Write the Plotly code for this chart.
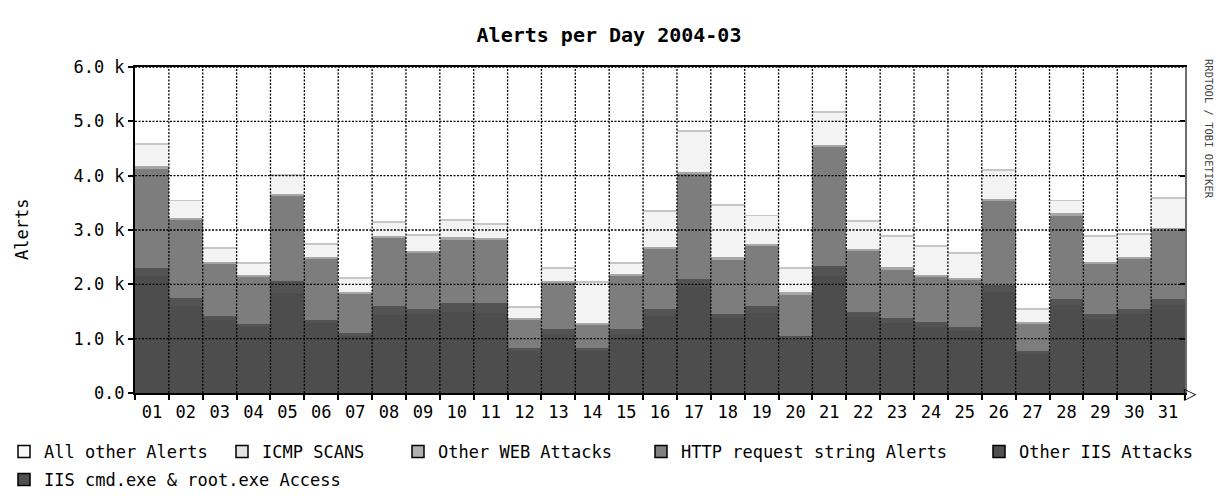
import plotly.graph_objects as go

days = [f"{d:02d}" for d in range(1, 32)]

iis_cmd = [2150, 1600, 1340, 1210, 1845, 1285, 1050, 1440, 1445, 1485, 1475, 765, 1095, 765, 1095,
           1425, 1950, 1380, 1480, 990, 2150, 1400, 1290, 1220, 1140, 1865, 725, 1615, 1370, 1445, 1615]
other_iis = [150, 150, 80, 60, 220, 60, 50, 170, 100, 180, 180, 60, 80, 60, 80,
             120, 150, 80, 130, 60, 180, 100, 90, 80, 70, 130, 50, 120, 90, 100, 120]
http_req = [1825, 1430, 960, 870, 1555, 1120, 720, 1245, 1030, 1160, 1155, 510, 850, 430, 970,
            1110, 1935, 995, 1090, 760, 2195, 1110, 890, 835, 875, 1535, 490, 1530, 915, 920, 1270]
other_web = [50, 40, 40, 40, 40, 40, 40, 40, 40, 40, 40, 40, 40, 40, 40,
             40, 40, 40, 40, 40, 40, 40, 40, 40, 40, 40, 40, 40, 40, 40, 40]
icmp = [395, 305, 225, 195, 340, 220, 235, 230, 275, 305, 235, 185, 220, 725, 185,
        630, 725, 950, 510, 435, 590, 505, 570, 510, 435, 510, 220, 220, 465, 405, 525]
all_other = [35] * 31

series_names = ["IIS cmd.exe & root.exe Access", "Other IIS Attacks", "HTTP request string Alerts",
                "Other WEB Attacks", "ICMP SCANS", "All other Alerts"]
series_values = [iis_cmd, other_iis, http_req, other_web, icmp, all_other]
fill_colors = ["#4d4d4d", "#535353", "#7d7d7d", "#a6a6a6", "#f3f3f3", "#c6c6c6"]
legend_colors = ["#505050", "#505050", "#808080", "#b0b0b0", "#e4e4e4", "#f8f8f8"]

y_ticks = [0, 1000, 2000, 3000, 4000, 5000, 6000]
y_tick_text = ["0.0", "1.0 k", "2.0 k", "3.0 k", "4.0 k", "5.0 k", "6.0 k"]

W, H = 1218, 504
L, R, T, B = 135, 1185, 67, 393
MONO = "DejaVu Sans Mono"


def px_x(p):
    return (p - L) / (R - L)


def px_y(p):
    return (B - p) / (B - T)


x_centers = [i + 0.5 for i in range(len(days))]

fig = go.Figure()
for name, vals, col in zip(series_names, series_values, fill_colors):
    fig.add_trace(go.Bar(x=x_centers, y=vals, width=1, name=name, marker=dict(color=col, line=dict(width=0)),
                         showlegend=False, hoverinfo="skip"))

# legend entries (placed individually like the original)
legend_pos = {
    "All other Alerts": (4, 452),
    "ICMP SCANS": (222, 452),
    "Other WEB Attacks": (398, 452),
    "HTTP request string Alerts": (641, 452),
    "Other IIS Attacks": (979, 452),
    "IIS cmd.exe & root.exe Access": (4, 480),
}
legend_layouts = {}
for i, (name, col) in enumerate(zip(series_names, legend_colors)):
    key = "legend" if i == 0 else f"legend{i+1}"
    fig.add_trace(go.Scatter(x=[None], y=[None], mode="markers", name=name, legend=key, yaxis="y2",
                             marker=dict(symbol="square", size=12, color=col, line=dict(color="black", width=1.5))))
    px, py = legend_pos[name]
    legend_layouts[key] = dict(x=px / W, y=1 - py / H, xref="container", yref="container",
                               xanchor="left", yanchor="middle", bgcolor="rgba(0,0,0,0)",
                               itemwidth=30, font=dict(family=MONO, size=17, color="black"),
                               borderwidth=0, itemclick=False)

shapes = []
# dotted grid drawn above the bars
for v in range(1, len(days)):
    shapes.append(dict(type="line", xref="x", yref="y", x0=v, x1=v, y0=0, y1=y_ticks[-1],
                       line=dict(color="black", width=1.3, dash="2px,1.5px"), layer="above"))
for v in y_ticks[1:]:
    shapes.append(dict(type="line", xref="x", yref="y", x0=0, x1=len(days), y0=v, y1=v,
                       line=dict(color="black", width=1.3, dash="2px,1.5px"), layer="above"))

fig.update_layout(
    width=W, height=H,
    margin=dict(l=L, r=W - R, t=T, b=H - B, pad=0, autoexpand=False),
    paper_bgcolor="white", plot_bgcolor="white",
    barmode="stack", bargap=0,
    title=dict(text="Alerts per Day 2004-03", x=0.5, xref="container", xanchor="center",
               y=1 - 35 / H, yref="container", yanchor="middle",
               font=dict(family=MONO, size=20, color="black", weight="bold")),
    xaxis=dict(range=[0, len(days)], tickvals=x_centers, ticktext=days, ticks="", showgrid=False,
               showline=True, linecolor="black", linewidth=2, mirror=True, zeroline=False,
               tickfont=dict(family=MONO, size=17, color="black"), ticklabelstandoff=3,
               minor=dict(tickvals=list(range(0, len(days) + 1)), ticks="outside", ticklen=5,
                          tickcolor="black", tickwidth=2, showgrid=False),
               fixedrange=True),
    yaxis=dict(range=[0, y_ticks[-1]], tickvals=y_ticks, ticktext=y_tick_text, ticks="outside",
               ticklen=5, tickwidth=2, tickcolor="black", showgrid=False, zeroline=False,
               showline=True, linecolor="black", linewidth=2,
               tickfont=dict(family=MONO, size=17, color="black"), fixedrange=True),
    yaxis2=dict(overlaying="y", side="right", range=[0, y_ticks[-1]], tickvals=y_ticks,
                showticklabels=False, ticks="inside", ticklen=5, tickwidth=2, tickcolor="black",
                showgrid=False, zeroline=False, showline=True, linecolor="#6e6e6e", linewidth=2,
                fixedrange=True),
    shapes=shapes,
    annotations=[
        dict(text="Alerts", xref="paper", yref="paper", x=px_x(22), y=0.5, textangle=-90,
             showarrow=False, xanchor="center", yanchor="middle",
             font=dict(family=MONO, size=17, color="black")),
        dict(text="RRDTOOL / TOBI OETIKER", xref="paper", yref="paper", x=px_x(1209),
             y=px_y(129), textangle=90, showarrow=False, xanchor="center", yanchor="middle",
             font=dict(family=MONO, size=10.5, color="#444444")),
        dict(text="▷", xref="paper", yref="y", x=1.0, y=0, xanchor="left", yanchor="middle",
             showarrow=False, xshift=-3, font=dict(family="DejaVu Sans", size=16, color="black")),
    ],
    **legend_layouts,
)

fig.write_html("out.html", config={"displayModeBar": False, "staticPlot": True},
               post_script="document.body.style.margin='0';document.body.style.padding='0';")
